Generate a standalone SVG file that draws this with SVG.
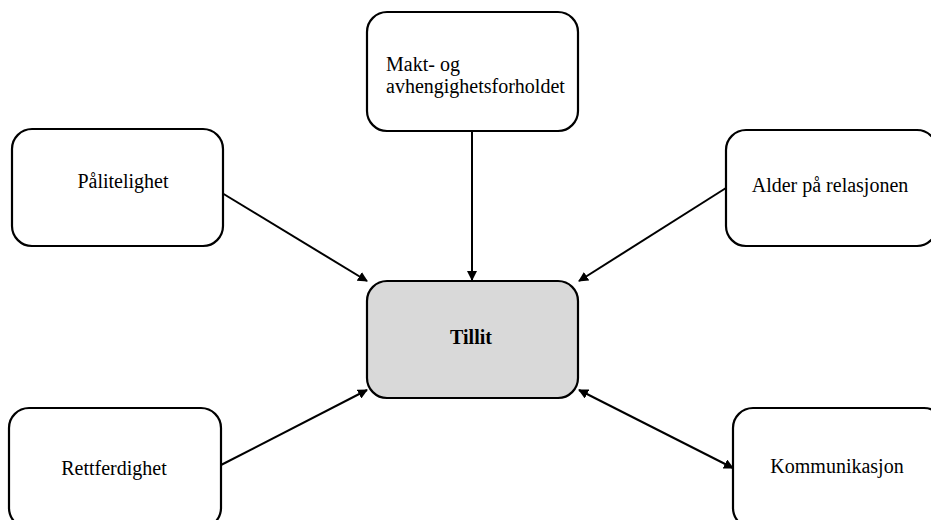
<svg xmlns="http://www.w3.org/2000/svg" width="931" height="520" viewBox="0 0 931 520">
  <style>
    .box { fill: #ffffff; stroke: #000000; stroke-width: 2.2; }
    .core { fill: #d9d9d9; stroke: #000000; stroke-width: 2.2; }
    .lbl { font-family: "Liberation Serif", "Times New Roman", serif; font-size: 20px; fill: #000000; }
    .bold { font-weight: bold; }
    .link { stroke: #000000; stroke-width: 2; fill: none; }
  </style>
  <defs>
    <marker id="arrowEnd" viewBox="0 0 10 10" refX="9" refY="5" markerWidth="5" markerHeight="5" orient="auto" markerUnits="strokeWidth">
      <path d="M0,0 L10,5 L0,10 Z" fill="#000000"/>
    </marker>
    <marker id="arrowStart" viewBox="0 0 10 10" refX="1" refY="5" markerWidth="5" markerHeight="5" orient="auto" markerUnits="strokeWidth">
      <path d="M10,0 L0,5 L10,10 Z" fill="#000000"/>
    </marker>
  </defs>

  <g id="connectors">
    <line class="link" x1="472" y1="131" x2="472" y2="280" marker-end="url(#arrowEnd)"/>
    <line class="link" x1="222" y1="193" x2="367" y2="281" marker-end="url(#arrowEnd)"/>
    <line class="link" x1="726" y1="188" x2="579" y2="281" marker-end="url(#arrowEnd)"/>
    <line class="link" x1="221" y1="465" x2="367" y2="390" marker-end="url(#arrowEnd)"/>
    <line class="link" x1="579" y1="390" x2="733" y2="468" marker-start="url(#arrowStart)" marker-end="url(#arrowEnd)"/>
  </g>

  <g id="node-makt">
    <rect class="box" x="367" y="12" width="211" height="119" rx="20" ry="20"/>
    <text class="lbl" x="386" y="71">Makt- og</text>
    <text class="lbl" x="386" y="93">avhengighetsforholdet</text>
  </g>

  <g id="node-palitelighet">
    <rect class="box" x="12" y="129" width="211" height="117" rx="20" ry="20"/>
    <text class="lbl" x="123" y="188" text-anchor="middle">Pålitelighet</text>
  </g>

  <g id="node-alder">
    <rect class="box" x="726" y="130" width="211" height="116" rx="20" ry="20"/>
    <text class="lbl" x="830" y="192" text-anchor="middle">Alder på relasjonen</text>
  </g>

  <g id="node-tillit">
    <rect class="core" x="367" y="281" width="211" height="117" rx="20" ry="20"/>
    <text class="lbl bold" x="471" y="344" text-anchor="middle">Tillit</text>
  </g>

  <g id="node-rettferdighet">
    <rect class="box" x="9" y="408" width="212" height="120" rx="20" ry="20"/>
    <text class="lbl" x="114" y="475" text-anchor="middle">Rettferdighet</text>
  </g>

  <g id="node-kommunikasjon">
    <rect class="box" x="733" y="408" width="211" height="120" rx="20" ry="20"/>
    <text class="lbl" x="837" y="473" text-anchor="middle">Kommunikasjon</text>
  </g>
</svg>
